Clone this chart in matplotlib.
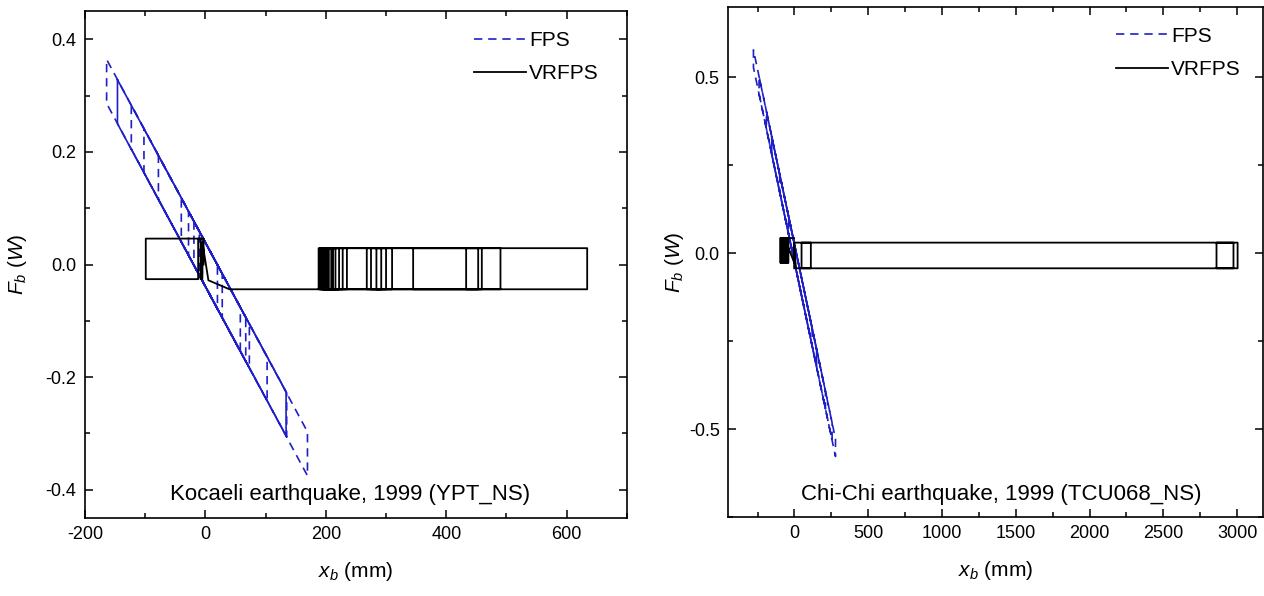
import matplotlib
matplotlib.use("Agg")
import matplotlib.pyplot as plt
from matplotlib.ticker import MultipleLocator
import numpy as np

plt.rcParams['font.family'] = ['Liberation Sans', 'DejaVu Sans']
plt.rcParams['mathtext.fontset'] = 'custom'
plt.rcParams['mathtext.rm'] = 'Liberation Sans'
plt.rcParams['mathtext.it'] = 'Liberation Sans:italic'
plt.rcParams['axes.unicode_minus'] = False

BLUE = '#1f1fc8'

#
#  DATA
#

# --- Kocaeli 1999 (YPT_NS) ---
# FPS hysteresis path (dashed)
koc_fps_x = [0, -164, -164, 169.5, 169.5, -123, -123, 135, 135, -102, -102, 102.5, 102.5,
             -78, -78, 73, 73, -40, -40, 67, 67, -28, -28, 58, 58, -19, -19, 28, 28,
             -10, -10, 20, 20, -5, -5, 12]
koc_fps_f = [0.039, 0.364, 0.286, -0.375, -0.297, 0.283, 0.205, -0.306, -0.228, 0.241, 0.163,
             -0.242, -0.164, 0.193, 0.115, -0.184, -0.106, 0.118, 0.040, -0.172, -0.094,
             0.094, 0.016, -0.154, -0.076, 0.077, -0.001, -0.094, -0.016, 0.059, -0.019,
             -0.079, -0.001, 0.049, -0.029, -0.063]
# solid blue loop
koc_blue_x = [-146, -146, 134, 134, -146]
koc_blue_f = [0.328, 0.250, -0.304, -0.226, 0.328]
# VRFPS: small block on the left, then the long plateau box
koc_vr_x = [-3, -3, -99, -99, -12, -12, -8, -8, -5, -5, 5, 40]
koc_vr_f = [0.0, 0.046, 0.046, -0.026, -0.026, 0.046, 0.046, -0.026, -0.026, 0.040, -0.028, -0.044]
koc_vr_rev = [634, 188, 490, 433, 459, 345, 453, 268, 310, 275, 300, 284, 292, 190, 235,
              192, 228, 195, 222, 198, 216, 200, 212, 203, 209, 205]
koc_vr_top, koc_vr_bot = 0.029, -0.044

# --- Chi-Chi 1999 (TCU068_NS) ---
chi_fps_x = [0, -278, -278, 278, 278, -240, -240, 255, 255, -190, -190, 210, 210,
             -100, -100, 120, 120, -40, -40, 50]
chi_fps_f = [0.025, 0.578, 0.528, -0.578, -0.528, 0.503, 0.453, -0.532, -0.482, 0.403, 0.353,
             -0.443, -0.393, 0.224, 0.174, -0.264, -0.214, 0.105, 0.055, -0.125]
chi_blue_x = [-154, -154, 150, 150, -154]
chi_blue_f = [0.331, 0.281, -0.324, -0.274, 0.331]
# dense small block near the origin (many reversals)
chi_blk_rev = [-96, -41, -93, -44, -90, -47, -87, -50, -84, -53, -81, -56, -78, -59, -75,
               -62, -72, -65, -69, -66]
chi_blk_top, chi_blk_bot = 0.043, -0.027
chi_vr_x = [-2, -2, 10]
chi_vr_f = [-0.027, 0.027, -0.043]
chi_vr_rev = [3003, 2860, 2975, 48, 111, -2]
chi_vr_top, chi_vr_bot = 0.030, -0.043


def plateau_path(x0, revs, top, bot, start=None):
	# friction plateau: moving right on bottom level, left on top level
	lev = bot if start is None else start
	xs, fs = [x0], [lev]
	for r in revs:
		xs.append(r)
		fs.append(lev)
		lev = top if lev == bot else bot
		xs.append(r)
		fs.append(lev)
	return xs, fs


def style_axes(ax, xmaj, xmin, ymaj, ymin, ypad):
	ax.xaxis.set_major_locator(MultipleLocator(xmaj))
	ax.xaxis.set_minor_locator(MultipleLocator(xmin))
	ax.yaxis.set_major_locator(MultipleLocator(ymaj))
	ax.yaxis.set_minor_locator(MultipleLocator(ymin))
	ax.tick_params(which='both', direction='in', top=True, right=True, labelsize=13, width=1.1)
	ax.tick_params(which='major', length=6)
	ax.tick_params(which='minor', length=3.5)
	ax.tick_params(axis='y', pad=6)
	ax.tick_params(axis='x', pad=6)
	for s in ax.spines.values():
		s.set_linewidth(1.2)
	ax.set_xlabel(r'$x_b$ (mm)', fontsize=15, labelpad=12)
	ax.set_ylabel(r'$F_b$ ($W$)', fontsize=15, labelpad=ypad)


fig = plt.figure(figsize=(12.64, 5.96), dpi=100)
ax1 = fig.add_axes([0.0672, 0.1309, 0.4288, 0.8506])
ax2 = fig.add_axes([0.576, 0.1326, 0.4232, 0.8557])

# left panel
ax1.plot(koc_blue_x, koc_blue_f, color=BLUE, lw=1.2)
ax1.plot(koc_fps_x, koc_fps_f, color=BLUE, lw=1.2, ls=(0, (5, 3.5)), label='FPS')
vx, vf = plateau_path(koc_vr_x[-1], koc_vr_rev, koc_vr_top, koc_vr_bot)
ax1.plot(koc_vr_x + vx, koc_vr_f + vf, color='black', lw=1.3, label='VRFPS')
ax1.set_xlim(-200, 700)
ax1.set_ylim(-0.45, 0.45)
style_axes(ax1, 200, 100, 0.2, 0.1, 12)
ax1.text(0.489, 0.047, 'Kocaeli earthquake, 1999 (YPT_NS)', transform=ax1.transAxes,
         ha='center', va='center', fontsize=16)
ax1.legend(loc='upper right', frameon=False, fontsize=15, handlelength=2.5,
           handletextpad=0.15, labelspacing=0.7, borderaxespad=0.55, bbox_to_anchor=(0.985, 1.0))

# right panel
ax2.plot(chi_blue_x, chi_blue_f, color=BLUE, lw=1.2)
ax2.plot(chi_fps_x, chi_fps_f, color=BLUE, lw=1.2, ls=(0, (5, 3.5)), label='FPS')
bx, bf = plateau_path(-2, chi_blk_rev, chi_blk_top, chi_blk_bot, start=chi_blk_top)
vx, vf = plateau_path(chi_vr_x[-1], chi_vr_rev, chi_vr_top, chi_vr_bot)
ax2.plot(bx + chi_vr_x + vx, bf + chi_vr_f + vf, color='black', lw=1.3, label='VRFPS')
ax2.set_xlim(-450, 3175)
ax2.set_ylim(-0.75, 0.7)
style_axes(ax2, 500, 250, 0.5, 0.25, 2)
ax2.text(0.51, 0.045, 'Chi-Chi earthquake, 1999 (TCU068_NS)', transform=ax2.transAxes,
         ha='center', va='center', fontsize=16)
ax2.legend(loc='upper right', frameon=False, fontsize=15, handlelength=2.5,
           handletextpad=0.15, labelspacing=0.7, borderaxespad=0.55, bbox_to_anchor=(0.995, 1.0))

plt.savefig('out.png', dpi=100)
plt.close()
